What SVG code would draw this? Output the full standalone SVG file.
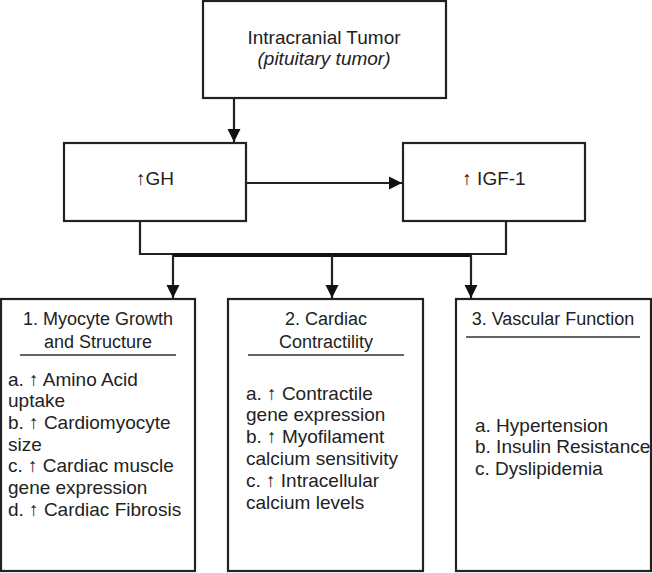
<svg xmlns="http://www.w3.org/2000/svg" width="652" height="573" viewBox="0 0 652 573">
<style>
.box{fill:#fff;stroke:#222;stroke-width:2.2}
.t{font-family:"Liberation Sans",Arial,sans-serif;font-size:19px;fill:#222}
.h{font-family:"Liberation Sans",Arial,sans-serif;font-size:18px;fill:#222;text-anchor:middle}
.c{text-anchor:middle}
.sep{stroke:#333;stroke-width:1.3}
.ln{fill:none;stroke:#222;stroke-width:2.2}
</style>
<defs>
<marker id="ah" markerUnits="userSpaceOnUse" markerWidth="14" markerHeight="14" viewBox="0 0 14 14" refX="13" refY="7" orient="auto">
<path d="M0,0.5 L13,7 L0,13.5 Z" fill="#111"/>
</marker>
</defs>
<rect width="652" height="573" fill="#fff"/>
<g id="connectors">
<line class="ln" x1="234" y1="98" x2="234" y2="142" marker-end="url(#ah)"/>
<line class="ln" x1="246" y1="183" x2="402" y2="183" marker-end="url(#ah)"/>
<path class="ln" d="M140,221 V254 H506 V221"/>
<line x1="173" y1="255" x2="471" y2="255" stroke="#111" stroke-width="4"/>
<line class="ln" x1="173" y1="255" x2="173" y2="298" marker-end="url(#ah)"/>
<line class="ln" x1="332" y1="255" x2="332" y2="298" marker-end="url(#ah)"/>
<line class="ln" x1="471" y1="255" x2="471" y2="298" marker-end="url(#ah)"/>
</g>
<g id="tumor">
<rect class="box" x="203" y="1" width="243" height="97"/>
<text class="t c" x="324" y="44">Intracranial Tumor</text>
<text class="t c" x="324" y="65" font-style="italic">(pituitary tumor)</text>
</g>
<g id="gh">
<rect class="box" x="64" y="143" width="182" height="78"/>
<text class="t c" x="155" y="185">↑GH</text>
</g>
<g id="igf1">
<rect class="box" x="403" y="143" width="182" height="78"/>
<text class="t c" x="494" y="185">↑ IGF-1</text>
</g>
<g id="myocyte">
<rect class="box" x="1" y="299" width="194" height="272"/>
<text class="h" x="98" y="325">1. Myocyte Growth</text>
<text class="h" x="98" y="348">and Structure</text>
<line class="sep" x1="20" y1="355" x2="176" y2="355"/>
<text class="t" x="8" y="386">a. ↑ Amino Acid</text>
<text class="t" x="8" y="407">uptake</text>
<text class="t" x="8" y="429">b. ↑ Cardiomyocyte</text>
<text class="t" x="8" y="451">size</text>
<text class="t" x="8" y="472">c. ↑ Cardiac muscle</text>
<text class="t" x="8" y="494">gene expression</text>
<text class="t" x="8" y="516">d. ↑ Cardiac Fibrosis</text>
</g>
<g id="contractility">
<rect class="box" x="228" y="299" width="195" height="272"/>
<text class="h" x="326" y="325">2. Cardiac</text>
<text class="h" x="326" y="348">Contractility</text>
<line class="sep" x1="248" y1="355" x2="404" y2="355"/>
<text class="t" x="246" y="400">a. ↑ Contractile</text>
<text class="t" x="246" y="421">gene expression</text>
<text class="t" x="246" y="443">b. ↑ Myofilament</text>
<text class="t" x="246" y="465">calcium sensitivity</text>
<text class="t" x="246" y="487">c. ↑ Intracellular</text>
<text class="t" x="246" y="509">calcium levels</text>
</g>
<g id="vascular">
<rect class="box" x="456" y="299" width="195" height="272"/>
<text class="h" x="553" y="325">3. Vascular Function</text>
<line class="sep" x1="466" y1="337" x2="640" y2="337"/>
<text class="t" x="475" y="432">a. Hypertension</text>
<text class="t" x="475" y="453">b. Insulin Resistance</text>
<text class="t" x="475" y="475">c. Dyslipidemia</text>
</g>
</svg>
